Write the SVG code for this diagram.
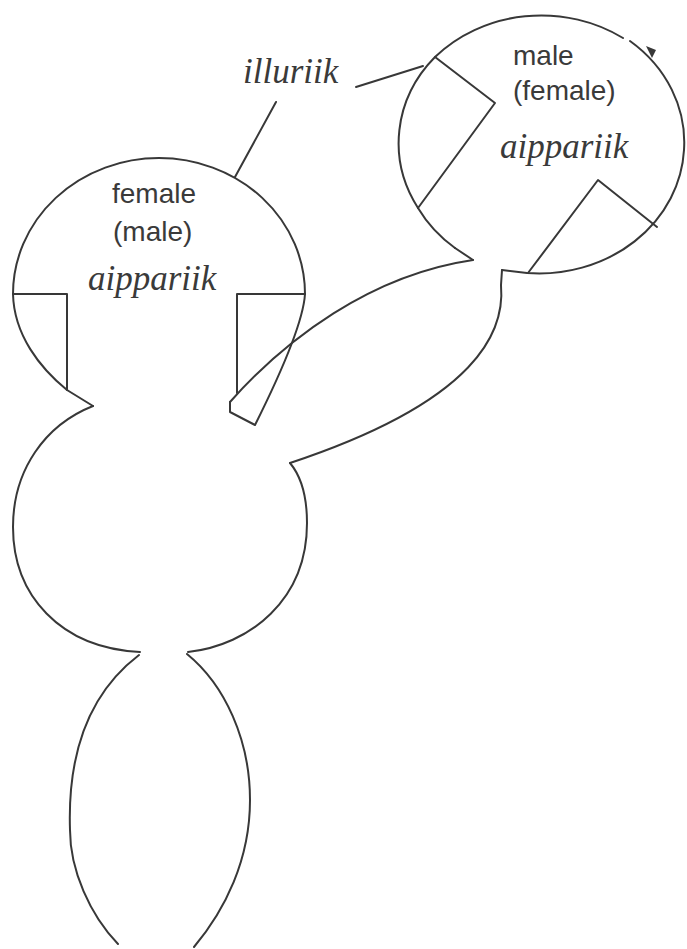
<svg xmlns="http://www.w3.org/2000/svg" width="687" height="949" viewBox="0 0 687 949">
  <style>
    .ln { fill: none; stroke: #383838; stroke-width: 2; stroke-linejoin: round; stroke-linecap: round; }
    .sans { font-family: "Liberation Sans", Arial, sans-serif; font-size: 28px; fill: #3a3a3a; }
    .ital { font-family: "Liberation Serif", "Times New Roman", serif; font-style: italic; font-size: 35px; fill: #3a3a3a; }
  </style>
  <rect width="687" height="949" fill="#ffffff"/>

  <!-- left head (upper bulb) -->
  <g id="left-head">
    <path class="ln" d="M93,406 L67,390 C40,368 14,335 13,294 A146,136 0 0 1 305,294 C303,325 275,385 255,425 L230,412 L230,402"/>
    <path class="ln" d="M13,294 H67 V390"/>
    <path class="ln" d="M305,294 H237 V393"/>
    <text class="sans" x="112" y="203">female</text>
    <text class="sans" x="113" y="241">(male)</text>
    <text class="ital" x="88" y="290">aippariik</text>
  </g>

  <!-- right head (raised bulb) -->
  <g id="right-head">
    <path class="ln" d="M455,248 A145,130 0 0 1 418,208 A145,130 0 0 1 435,57 A145,130 0 0 1 623,38"/>
    <path class="ln" d="M630,41 A145,130 0 0 1 684,150 A145,130 0 0 1 527,273 L502,270"/>
    <path d="M646,46 L656,50 L652,58 Z" fill="#383838"/>
    <path class="ln" d="M455,248 L473,260"/>
    <path class="ln" d="M435,57 L495,103 L418,208"/>
    <path class="ln" d="M528,273 L598,180 L657,227"/>
    <text class="sans" x="513" y="65">male</text>
    <text class="sans" x="513" y="100">(female)</text>
    <text class="ital" x="500" y="158">aippariik</text>
  </g>

  <!-- arm joining the two bulbs -->
  <g id="arm">
    <path class="ln" d="M230,402 C285,340 370,275 473,260"/>
    <path class="ln" d="M502,270 L501,285 C505,330 480,400 290,463"/>
  </g>

  <!-- body (middle bulb) -->
  <g id="body">
    <path class="ln" d="M93,406 C45,425 13,470 13,527 C13,595 60,648 140,652"/>
    <path class="ln" d="M188,652 C250,645 307,600 307,523 C307,495 300,475 290,463"/>
  </g>

  <!-- lower lobe -->
  <g id="legs">
    <path class="ln" d="M139,655 C80,700 68,770 70,830 C70,870 90,915 118,944"/>
    <path class="ln" d="M187,654 C225,685 250,740 250,800 C250,860 225,910 194,947"/>
  </g>

  <!-- label with its two leader lines -->
  <g id="illuriik">
    <text class="ital" x="243" y="83">illuriik</text>
  </g>
  <g id="connectors">
    <path class="ln" d="M276,102 L235,177"/>
    <path class="ln" d="M356,87 L423,66"/>
  </g>
</svg>
